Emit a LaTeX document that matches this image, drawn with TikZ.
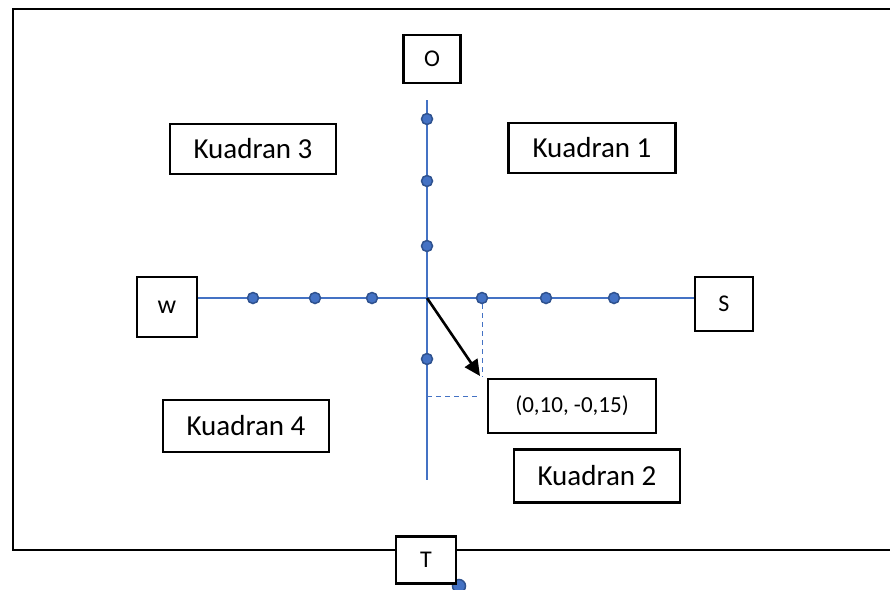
\documentclass[tikz,border=0pt]{standalone}
\usepackage{fontspec}
\setmainfont{Carlito}
\usetikzlibrary{arrows.meta}
\definecolor{axisblue}{HTML}{4472C4}
\definecolor{dotedge}{HTML}{2F528F}
\tikzset{
  lbox/.style={draw=black, line width=2.6pt, fill=white, inner sep=0pt,
    font=\fontsize{24}{26}\selectfont},
  kbox/.style={lbox, font=\fontsize{29}{31}\selectfont},
  axisline/.style={axisblue, line width=1.4pt},
  guide/.style={axisblue, line width=1pt, dash pattern=on 5pt off 4pt},
  tick/.style={circle, fill=axisblue, draw=dotedge, line width=1.5pt,
    minimum size=11pt, inner sep=0pt},
}
\begin{document}
\begin{tikzpicture}[x=1pt, y=-1pt]
\useasboundingbox (0,0) rectangle (890,589);

% outer frame (open on the right)
\draw[line width=2.8pt] (890,9) -- (13,9) -- (13,550) -- (890,550);

% direction boxes
\node[lbox, minimum width=57pt, minimum height=48pt] (o) at (432,59) {O};
\node[lbox, minimum width=60pt, minimum height=60pt, font=\fontsize{26}{28}\selectfont] (w) at (167,307) {w};
\node[lbox, minimum width=58pt, minimum height=54pt] (s) at (724,304) {S};

% axes
\coordinate (top) at (427,100);
\coordinate (bot) at (427,480);
\coordinate (origin) at (427,298);
\draw[axisline] (top) -- (bot);
\draw[axisline] (w.east |- origin) -- (s.west |- origin);

% ticks
\foreach \i/\y in {1/119, 2/181, 3/246, 4/359}
  \node[tick] (v\i) at (427,\y) {};
\foreach \i/\x in {1/253, 2/315, 3/372, 4/482, 5/546, 6/614}
  \node[tick] (h\i) at (\x,298) {};

% projection guides and vector
\coordinate (tip) at (480,376);
\coordinate (gx) at (482,377);
\coordinate (gy0) at (427,396);
\coordinate (gy1) at (477,396);
\draw[guide] (h4) -- (gx);
\draw[guide] (gy0) -- (gy1);
\draw[line width=2.6pt, -{Triangle[length=16pt,width=15pt]}] (origin) -- (tip);

% value label
\node[lbox, minimum width=168pt, minimum height=54pt, font=\fontsize{23}{25}\selectfont] (val) at (572,406) {(0,10, -0,15)};

% quadrant labels
\node[kbox, minimum width=166pt, minimum height=50pt] (k3) at (253,149) {Kuadran 3};
\node[kbox, minimum width=167pt, minimum height=50pt] (k1) at (592,148) {Kuadran 1};
\node[kbox, minimum width=166pt, minimum height=52pt] (k4) at (246,426) {Kuadran 4};
\node[kbox, minimum width=166pt, minimum height=53pt] (k2) at (597,476) {Kuadran 2};

% bottom box on the frame, with a dot tucked behind its corner
\node[tick, minimum size=13pt] (tdot) at (459,586) {};
\node[lbox, minimum width=60pt, minimum height=47pt] (t) at (426,560) {T};
\end{tikzpicture}
\end{document}
